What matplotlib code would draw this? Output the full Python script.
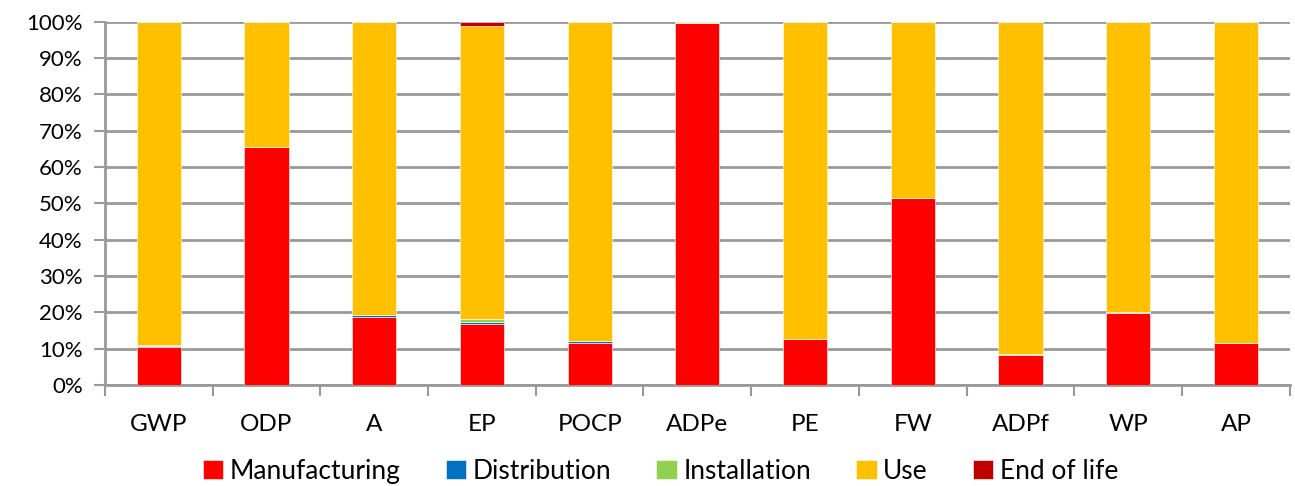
import matplotlib
matplotlib.use("Agg")
import matplotlib.pyplot as plt
import numpy as np

categories = ["GWP", "ODP", "A", "EP", "POCP", "ADPe", "PE", "FW", "ADPf", "WP", "AP"]
manufacturing = [10.5, 65.6, 18.6, 16.7, 11.5, 99.8, 12.6, 51.5, 8.3, 19.7, 11.6]
distribution  = [0.2, 0.0, 0.6, 0.5, 0.5, 0.0, 0.0, 0.0, 0.0, 0.0, 0.0]
installation  = [0.3, 0.0, 0.1, 0.9, 0.1, 0.0, 0.0, 0.0, 0.1, 0.3, 0.0]
use           = [89.0, 34.4, 80.7, 80.9, 87.9, 0.2, 87.4, 48.5, 91.6, 80.0, 88.4]
end_of_life   = [0.0, 0.0, 0.0, 1.0, 0.0, 0.0, 0.0, 0.0, 0.0, 0.0, 0.0]

series = [
    ("Manufacturing", manufacturing, "#FF0000"),
    ("Distribution", distribution, "#0070C0"),
    ("Installation", installation, "#92D050"),
    ("Use", use, "#FFC000"),
    ("End of life", end_of_life, "#C00000"),
]

plt.rcParams["font.family"] = ["Lato", "DejaVu Sans"]

fig = plt.figure(figsize=(12.95, 4.86), dpi=100)
ax = fig.add_axes([0.081, 0.208, 0.915, 0.747])

x = np.arange(len(categories))
bottom = np.zeros(len(categories))
for name, vals, color in series:
    vals = np.array(vals)
    ax.bar(x, vals, 0.41, bottom=bottom, color=color, label=name,
           edgecolor="white", linewidth=0.4, zorder=3)
    bottom += vals

ax.set_xlim(-0.5, len(categories) - 0.5)
ax.set_ylim(0, 100)
ax.set_yticks(np.arange(0, 101, 10))
ax.set_yticklabels([f"{v}%" for v in range(0, 101, 10)], fontsize=16)
ax.yaxis.grid(True, color="#999999", linewidth=2, zorder=0)
ax.set_axisbelow(True)

ax.set_xticks(x)
ax.set_xticklabels(categories, fontsize=17.5)
ax.tick_params(axis="x", length=0, pad=21)
ax.set_xticks(np.arange(-0.5, len(categories), 1), minor=True)
ax.tick_params(axis="x", which="minor", length=8, width=1.5, color="#999999")
ax.tick_params(axis="y", length=8, width=1.5, color="#999999", pad=8)

for side in ["top", "right"]:
    ax.spines[side].set_visible(False)
for side in ["left", "bottom"]:
    ax.spines[side].set_color("#999999")
    ax.spines[side].set_linewidth(2)

leg = fig.legend(loc="center", bbox_to_anchor=(0.51, 0.03), ncol=5,
                 frameon=False, fontsize=19, handlelength=0.78, handleheight=0.75,
                 handletextpad=0.25, columnspacing=1.7, borderpad=0.0)

fig.savefig("out.png", dpi=100)
